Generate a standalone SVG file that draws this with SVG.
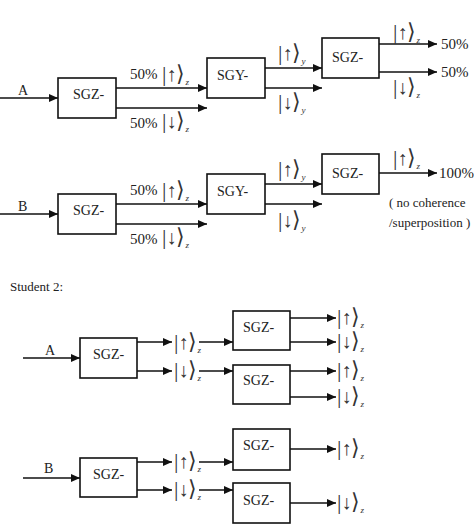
<svg xmlns="http://www.w3.org/2000/svg" width="474" height="528" viewBox="0 0 474 528" font-family="'Liberation Serif', 'Times New Roman', Times, serif">
<defs>
<marker id="ah" viewBox="0 0 9 8" markerWidth="9" markerHeight="8" refX="9" refY="4" orient="auto" markerUnits="userSpaceOnUse">
<path d="M0,0 L9,4 L0,8 z" fill="#111"/>
</marker>
<style>
.box{fill:#fff;stroke:#111;stroke-width:1.6}
.ln{stroke:#111;stroke-width:1.3;fill:none;marker-end:url(#ah)}
text{font-family:'Liberation Serif','Times New Roman',Times,serif;fill:#222}
.t{font-size:14px}
.p{font-size:15px}
.s{font-size:13px}
.ket{fill:#333;font-size:22px}
.ar{font-size:20px}
.sub{font-size:9px;font-style:italic}
</style>
</defs>
<rect width="474" height="528" fill="#fff"/>

<g id="connectors">
<line class="ln" x1="0" y1="98" x2="58" y2="98"/>
<line class="ln" x1="116" y1="88" x2="207" y2="88"/>
<line class="ln" x1="116" y1="108" x2="207" y2="108"/>
<line class="ln" x1="265" y1="68" x2="322" y2="68"/>
<line class="ln" x1="265" y1="88" x2="322" y2="88"/>
<line class="ln" x1="379" y1="44" x2="437" y2="44"/>
<line class="ln" x1="379" y1="72" x2="437" y2="72"/>
<line class="ln" x1="0" y1="214" x2="58" y2="214"/>
<line class="ln" x1="116" y1="204" x2="207" y2="204"/>
<line class="ln" x1="116" y1="224" x2="207" y2="224"/>
<line class="ln" x1="265" y1="184" x2="322" y2="184"/>
<line class="ln" x1="265" y1="204" x2="322" y2="204"/>
<line class="ln" x1="379" y1="173" x2="437" y2="173"/>
<line class="ln" x1="23" y1="358" x2="80" y2="358"/>
<line class="ln" x1="137" y1="342" x2="172" y2="342"/>
<line class="ln" x1="137" y1="371" x2="172" y2="371"/>
<line class="ln" x1="199" y1="342" x2="233" y2="342"/>
<line class="ln" x1="199" y1="371" x2="233" y2="371"/>
<line class="ln" x1="290" y1="318" x2="336" y2="318"/>
<line class="ln" x1="290" y1="342" x2="336" y2="342"/>
<line class="ln" x1="290" y1="371" x2="336" y2="371"/>
<line class="ln" x1="290" y1="397" x2="336" y2="397"/>
<line class="ln" x1="23" y1="478" x2="80" y2="478"/>
<line class="ln" x1="137" y1="462" x2="172" y2="462"/>
<line class="ln" x1="137" y1="490" x2="172" y2="490"/>
<line class="ln" x1="199" y1="462" x2="233" y2="462"/>
<line class="ln" x1="199" y1="490" x2="233" y2="490"/>
<line class="ln" x1="290" y1="449" x2="336" y2="449"/>
<line class="ln" x1="290" y1="503" x2="336" y2="503"/>
</g>

<g id="s1a-sgz1"><rect class="box" x="58" y="78" width="58" height="40"/><text class="t" x="73" y="99">SGZ-</text></g>
<g id="s1a-sgy"><rect class="box" x="207" y="58" width="58" height="40"/><text class="t" x="217" y="80">SGY-</text></g>
<g id="s1a-sgz2"><rect class="box" x="322" y="38" width="57" height="40"/><text class="t" x="332" y="62">SGZ-</text></g>
<g id="s1a-labels">
<text class="t" x="18" y="95">A</text>
<text class="p" x="130" y="79">50%</text>
<text class="ket" x="162" y="81">|<tspan class="ar">↑</tspan>⟩<tspan class="sub" dy="4">z</tspan></text>
<text class="p" x="130" y="128">50%</text>
<text class="ket" x="162" y="128">|<tspan class="ar">↓</tspan>⟩<tspan class="sub" dy="4">z</tspan></text>
<text class="ket" x="278" y="60">|<tspan class="ar">↑</tspan>⟩<tspan class="sub" dy="4">y</tspan></text>
<text class="ket" x="278" y="109">|<tspan class="ar">↓</tspan>⟩<tspan class="sub" dy="4">y</tspan></text>
<text class="ket" x="393" y="39">|<tspan class="ar">↑</tspan>⟩<tspan class="sub" dy="4">z</tspan></text>
<text class="ket" x="393" y="94">|<tspan class="ar">↓</tspan>⟩<tspan class="sub" dy="4">z</tspan></text>
<text class="p" x="441" y="49">50%</text>
<text class="p" x="441" y="77">50%</text>
</g>

<g id="s1b-sgz1"><rect class="box" x="58" y="194" width="58" height="40"/><text class="t" x="73" y="215">SGZ-</text></g>
<g id="s1b-sgy"><rect class="box" x="207" y="174" width="58" height="40"/><text class="t" x="217" y="196">SGY-</text></g>
<g id="s1b-sgz2"><rect class="box" x="322" y="154" width="57" height="40"/><text class="t" x="332" y="178">SGZ-</text></g>
<g id="s1b-labels">
<text class="t" x="18" y="211">B</text>
<text class="p" x="130" y="195">50%</text>
<text class="ket" x="162" y="197">|<tspan class="ar">↑</tspan>⟩<tspan class="sub" dy="4">z</tspan></text>
<text class="p" x="130" y="244">50%</text>
<text class="ket" x="162" y="244">|<tspan class="ar">↓</tspan>⟩<tspan class="sub" dy="4">z</tspan></text>
<text class="ket" x="278" y="176">|<tspan class="ar">↑</tspan>⟩<tspan class="sub" dy="4">y</tspan></text>
<text class="ket" x="278" y="227">|<tspan class="ar">↓</tspan>⟩<tspan class="sub" dy="4">y</tspan></text>
<text class="ket" x="393" y="165">|<tspan class="ar">↑</tspan>⟩<tspan class="sub" dy="4">z</tspan></text>
<text class="p" x="439" y="178">100%</text>
<text class="s" x="389" y="207">( no coherence</text>
<text class="s" x="389" y="227">/superposition )</text>
</g>

<text class="s" x="10" y="291">Student 2:</text>

<g id="s2a-sgz1"><rect class="box" x="80" y="338" width="57" height="40"/><text class="t" x="93" y="359">SGZ-</text></g>
<g id="s2a-sgz-up"><rect class="box" x="233" y="311" width="57" height="39"/><text class="t" x="243" y="332">SGZ-</text></g>
<g id="s2a-sgz-down"><rect class="box" x="233" y="365" width="57" height="39"/><text class="t" x="243" y="385">SGZ-</text></g>
<g id="s2a-labels">
<text class="t" x="45" y="355">A</text>
<text class="ket" x="174" y="349">|<tspan class="ar">↑</tspan>⟩<tspan class="sub" dy="4">z</tspan></text>
<text class="ket" x="174" y="377">|<tspan class="ar">↓</tspan>⟩<tspan class="sub" dy="4">z</tspan></text>
<text class="ket" x="337" y="324">|<tspan class="ar">↑</tspan>⟩<tspan class="sub" dy="4">z</tspan></text>
<text class="ket" x="337" y="348">|<tspan class="ar">↓</tspan>⟩<tspan class="sub" dy="4">z</tspan></text>
<text class="ket" x="337" y="377">|<tspan class="ar">↑</tspan>⟩<tspan class="sub" dy="4">z</tspan></text>
<text class="ket" x="337" y="403">|<tspan class="ar">↓</tspan>⟩<tspan class="sub" dy="4">z</tspan></text>
</g>

<g id="s2b-sgz1"><rect class="box" x="80" y="458" width="57" height="39"/><text class="t" x="93" y="479">SGZ-</text></g>
<g id="s2b-sgz-up"><rect class="box" x="233" y="429" width="57" height="41"/><text class="t" x="243" y="450">SGZ-</text></g>
<g id="s2b-sgz-down"><rect class="box" x="233" y="483" width="57" height="40"/><text class="t" x="243" y="505">SGZ-</text></g>
<g id="s2b-labels">
<text class="t" x="44" y="473">B</text>
<text class="ket" x="174" y="468">|<tspan class="ar">↑</tspan>⟩<tspan class="sub" dy="4">z</tspan></text>
<text class="ket" x="174" y="496">|<tspan class="ar">↓</tspan>⟩<tspan class="sub" dy="4">z</tspan></text>
<text class="ket" x="337" y="455">|<tspan class="ar">↑</tspan>⟩<tspan class="sub" dy="4">z</tspan></text>
<text class="ket" x="337" y="509">|<tspan class="ar">↓</tspan>⟩<tspan class="sub" dy="4">z</tspan></text>
</g>
</svg>
